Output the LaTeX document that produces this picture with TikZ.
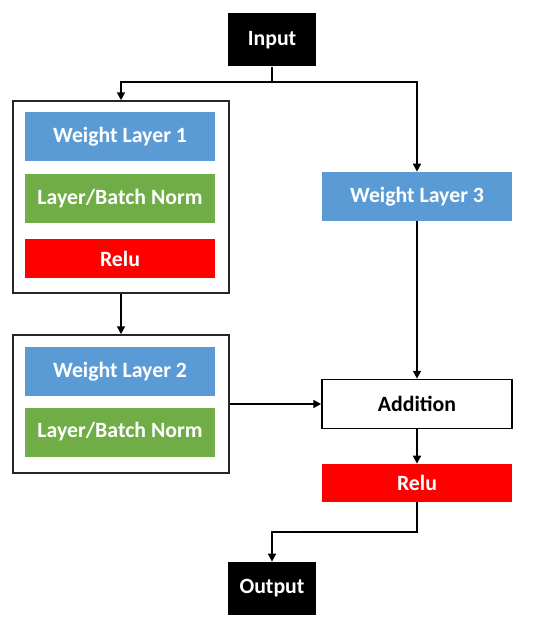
\documentclass[tikz,border=0pt]{standalone}
\usepackage{fontspec}
\setmainfont{Carlito}
\usetikzlibrary{arrows.meta,positioning}
\definecolor{layerblue}{HTML}{5B9BD5}
\definecolor{normgreen}{HTML}{70AD47}
\definecolor{relured}{HTML}{FF0000}

\begin{document}
\begin{tikzpicture}[
		font=\bfseries\fontsize{12.4}{14}\selectfont,
		layer/.style={minimum width=3.8cm, minimum height=0.98cm, inner sep=0pt, text=white, align=center},
		term/.style={fill=black, text=white, minimum width=1.76cm, minimum height=1.06cm, inner sep=0pt},
		group/.style={draw=black!85, line width=0.9pt, minimum width=4.32cm, inner sep=0pt},
		flow/.style={line width=1pt, -{Triangle[length=4.5pt, width=4.5pt]}},
	]
	\useasboundingbox (0,0) rectangle (11,-12.56);

	% x coordinates
	\def\xin{5.44}
	\def\xleft{2.40}
	\def\xright{8.34}

	% outer groups
	\node[group, minimum height=3.84cm] (block1) at (\xleft+0.02, -3.94) {};
	\node[group, minimum height=2.76cm] (block2) at (\xleft+0.02, -8.08) {};

	% input / output
	\node[term] (input) at (\xin, -0.80) {Input};
	\node[term] (output) at (\xin, -11.77) {Output};

	% left branch
	\node[layer, fill=layerblue] (wl1) at (\xleft, -2.73) {Weight Layer 1};
	\node[layer, fill=normgreen] (norm1) at (\xleft, -3.97) {Layer/Batch Norm};
	\node[layer, fill=relured, minimum height=0.78cm] (relu1) at (\xleft, -5.17) {Relu};
	\node[layer, fill=layerblue] (wl2) at (\xleft, -7.43) {Weight Layer 2};
	\node[layer, fill=normgreen] (norm2) at (\xleft, -8.64) {Layer/Batch Norm};

	% right branch
	\node[layer, fill=layerblue] (wl3) at (\xright, -3.93) {Weight Layer 3};
	\node[layer, draw=black, line width=0.9pt, text=black] (add) at (\xright, -8.08) {Addition};
	\node[layer, fill=relured, minimum height=0.76cm] (relu2) at (\xright, -9.66) {Relu};

	% connectors
	\coordinate (split) at (\xin, -1.64);
	\coordinate (merge) at (\xright, -10.64);
	\draw[flow] (input.south) -- (split) -| (block1.north);
	\draw[flow] (split) -| (wl3.north);
	\draw[flow] (block1.south) -- (block2.north);
	\draw[flow] (wl3.south) -- (add.north);
	\draw[flow] (block2.east) -- (add.west);
	\draw[flow] (add.south) -- (relu2.north);
	\draw[flow] (relu2.south) -- (merge) -| (output.north);

\end{tikzpicture}
\end{document}
